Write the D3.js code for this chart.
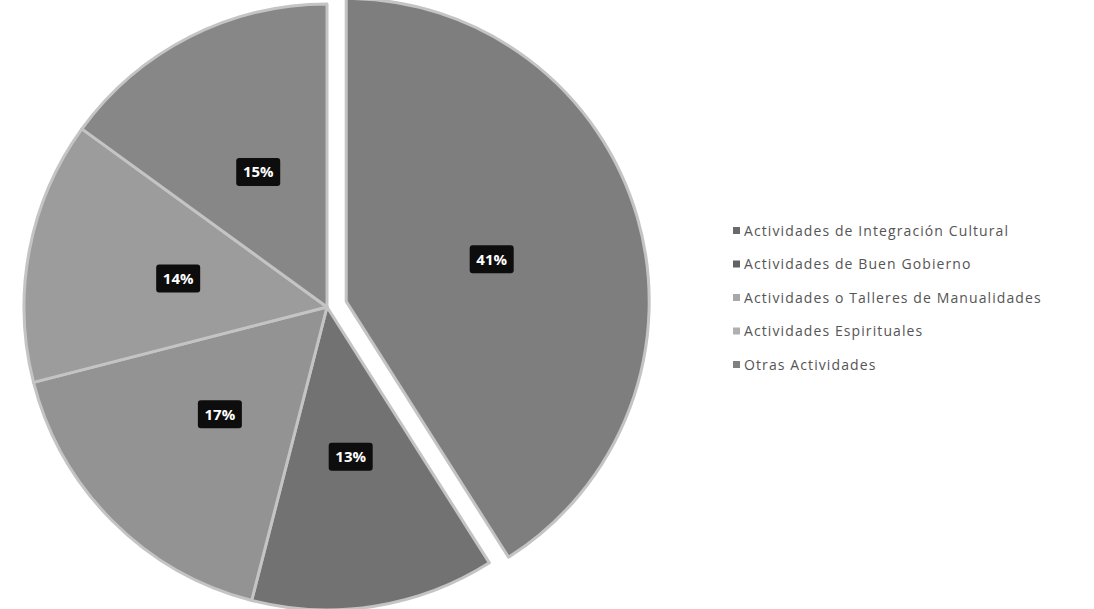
<!DOCTYPE html>
<html>
<head>
<meta charset="utf-8">
<script src="https://cdn.jsdelivr.net/npm/d3@7"></script>
<style>
  html, body { margin: 0; padding: 0; background: #fff; }
  svg { display: block; }
</style>
</head>
<body>
<svg id="chart" width="1094" height="609"></svg>
<script>
const categories = [
  "Actividades de Integración Cultural",
  "Actividades de Buen Gobierno",
  "Actividades o Talleres de Manualidades",
  "Actividades Espirituales",
  "Otras Actividades"
];
const values = [41, 13, 17, 14, 15];
const sliceColors = ["#7e7e7e", "#727272", "#939393", "#9c9c9c", "#878787"];
const legendColors = ["#6a6a6a", "#626262", "#a8a8a8", "#b0b0b0", "#808080"];
const explodedIndex = 0;

const svg = d3.select("#chart");
const cx = 327, cy = 307, R = 303, explode = 20;

const pie = d3.pie().sort(null).value(d => d)(values);
const arc = d3.arc().innerRadius(0).outerRadius(R);

const g = svg.append("g").attr("transform", `translate(${cx},${cy})`);

const slices = g.selectAll("g.slice").data(pie).enter().append("g")
  .attr("class", "slice")
  .attr("transform", (d, i) => {
    if (i !== explodedIndex) return null;
    const a = (d.startAngle + d.endAngle) / 2;
    return `translate(${Math.sin(a) * explode},${-Math.cos(a) * explode})`;
  });

slices.append("path")
  .attr("d", arc)
  .attr("fill", (d, i) => sliceColors[i])
  .attr("stroke", "#c4c4c4")
  .attr("stroke-width", 3)
  .attr("stroke-linejoin", "round");

const labelArc = d3.arc().innerRadius(0).outerRadius(R);
slices.each(function(d) {
  const sel = d3.select(this);
  const [lx, ly] = labelArc.centroid(d);
  const lg = sel.append("g").attr("transform", `translate(${lx},${ly})`);
  lg.append("rect")
    .attr("x", -22).attr("y", -14).attr("width", 44).attr("height", 28)
    .attr("rx", 3).attr("fill", "#0d0d0d");
  lg.append("text")
    .attr("text-anchor", "middle").attr("dy", "0.36em")
    .attr("fill", "#fff")
    .attr("font-family", "'Open Sans', sans-serif")
    .attr("font-weight", "bold").attr("font-size", 15)
    .text(Math.round(d.data) + "%");
});

const legend = svg.append("g").attr("transform", "translate(733,231)");
const ly = d3.scalePoint().domain(categories).range([0, 134]);
const items = legend.selectAll("g").data(categories).enter().append("g")
  .attr("transform", d => `translate(0,${ly(d)})`);
items.append("rect")
  .attr("x", 0).attr("y", -4).attr("width", 7).attr("height", 7)
  .attr("fill", (d, i) => legendColors[i]);
items.append("text")
  .attr("x", 11).attr("dy", "0.35em")
  .attr("fill", "#555")
  .attr("font-family", "'Open Sans', sans-serif")
  .attr("font-size", 14)
  .attr("letter-spacing", 1.1)
  .text(d => d);
</script>
</body>
</html>
